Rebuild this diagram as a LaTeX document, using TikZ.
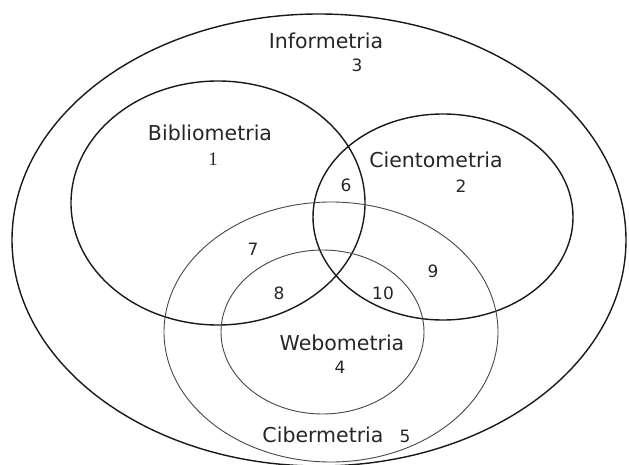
\documentclass[tikz,border=0pt]{standalone}
\usepackage{fontspec}
\setmainfont{DejaVu Sans}
\newfontfamily\serifnum{Liberation Serif}
\begin{document}
\begin{tikzpicture}[x=1pt,y=-1pt,
  thick/.style={draw=black!90,line width=1.4pt},
  thin/.style={draw=black!72,line width=0.9pt},
  lab/.style={anchor=base,inner sep=0pt,font=\fontsize{20.5}{24}\selectfont,text=black!85},
  num/.style={anchor=base,inner sep=0pt,font=\fontsize{17}{20}\selectfont,text=black!85}]
\useasboundingbox (0,0) rectangle (629,465);
\draw[thick] (319,240) ellipse [x radius=307, y radius=226];
\draw[thick] (218,203) ellipse [x radius=147, y radius=122];
\draw[thick] (443,217) ellipse [x radius=130, y radius=103];
\draw[thin] (331,332) ellipse [x radius=167, y radius=130];
\draw[thin] (322.5,332) ellipse [x radius=101.5, y radius=82];
\node[lab] (info) at (326,49) {Informetria};
\node[num] (n3) at (357,72) {3};
\node[lab] (biblio) at (210,141) {Bibliometria};
\node[num,font=\serifnum\fontsize{19}{22}\selectfont] (n1) at (213,166) {1};
\node[lab] (cient) at (436,168) {Cientometria};
\node[num] (n2) at (461,193) {2};
\node[num] (n6) at (346,192) {6};
\node[num] (n7) at (253,255) {7};
\node[num] (n9) at (433,277) {9};
\node[num] (n8) at (279,299) {8};
\node[num] (n10) at (383,299) {10};
\node[lab] (webo) at (342,350) {Webometria};
\node[num] (n4) at (340,373) {4};
\node[lab] (ciber) at (323,442) {Cibermetria};
\node[num] (n5) at (405,442) {5};
\end{tikzpicture}
\end{document}
